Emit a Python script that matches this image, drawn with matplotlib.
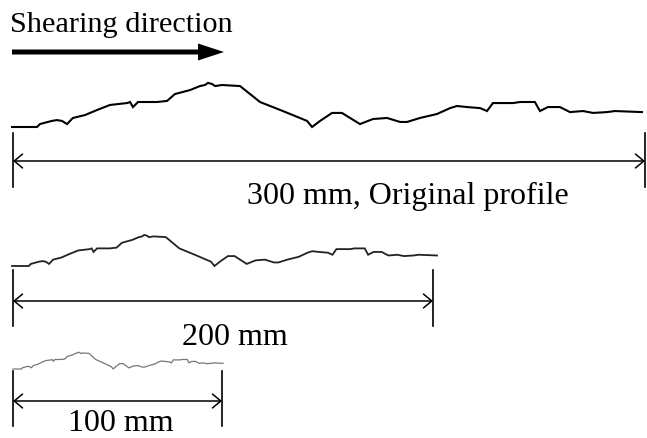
import numpy as np
import matplotlib
matplotlib.use("Agg")
import matplotlib.pyplot as plt

# joint roughness profile, distance along joint (mm) and asperity height (mm)
dist = [0, 11.9, 13.3, 19.0, 21.4, 23.8, 26.2, 29.0, 34.8, 40.5, 46.7, 54.8, 56.2,
        57.6, 60.0, 69.0, 73.8, 77.6, 84.8, 89.5, 91.9, 93.3, 95.2, 96.7, 100.0,
        108.6, 118.1, 129.0, 140.5, 142.9, 146.7, 152.4, 157.1, 165.7, 171.9, 178.6,
        184.8, 188.1, 194.3, 202.4, 208.6, 211.9, 216.7, 222.9, 226.2, 229.0, 238.6,
        241.9, 249.0, 251.4, 255.2, 260.9, 265.7, 271.9, 276.7, 283.3, 287.1, 300.0]
height = [0, 0, 1.4, 2.9, 3.3, 2.9, 1.4, 4.3, 5.7, 8.1, 10.5, 11.4, 11.9,
          9.5, 11.9, 11.9, 12.4, 15.7, 17.6, 19.5, 20.0, 21.0, 20.5, 19.5, 20.0,
          19.5, 11.9, 7.6, 2.9, 0, 2.9, 6.7, 6.7, 1.4, 3.8, 4.3,
          2.4, 2.4, 4.3, 6.2, 9.0, 10.0, 9.5, 9.0, 7.6, 11.4, 11.4,
          11.9, 11.9, 7.6, 9.5, 9.5, 7.1, 7.6, 6.7, 7.1, 7.6, 7.1]

lengths = [300, 200, 100]
labels = ["300 mm, Original profile", "200 mm", "100 mm"]

dist = np.array(dist)
height = np.array(height)

W, H = 647, 439
fig = plt.figure(figsize=(W / 100, H / 100), dpi=100)
ax = fig.add_axes([0, 0, 1, 1])
ax.set_xlim(0, W)
ax.set_ylim(H, 0)
ax.axis("off")

serif = "Liberation Serif"

# placement of each profile in pixel units (x0, x1, baseline y, vertical px/mm)
place = [
    dict(x0=12, x1=642, y0=128, sy=2.1, lw=1.5, c="black",
         tick=(13, 645, 134, 188), dim_y=162, lab_x=408, lab_y=204),
    dict(x0=12, x1=437, y0=267, sy=1.48, lw=1.3, c="#222222",
         tick=(13, 433, 271, 327), dim_y=302, lab_x=235, lab_y=345),
    dict(x0=13, x1=223, y0=370, sy=0.8, lw=0.9, c="#777777",
         tick=(13, 222, 372, 427), dim_y=402, lab_x=121, lab_y=431),
]

for L, lab, p in zip(lengths, labels, place):
    sx = (p["x1"] - p["x0"]) / dist.max()
    ax.plot(p["x0"] + dist * sx, p["y0"] - height * p["sy"],
            color=p["c"], lw=p["lw"], solid_joinstyle="miter")
    xa, xb, ya, yb = p["tick"]
    ax.plot([xa, xa], [ya, yb], color="black", lw=1.2)
    ax.plot([xb, xb], [ya, yb], color="black", lw=1.2)
    ax.annotate("", xy=(xa, p["dim_y"]), xytext=(xb, p["dim_y"]),
                arrowprops=dict(arrowstyle="<->,head_length=0.6,head_width=0.5",
                                lw=1.1, color="black", shrinkA=0, shrinkB=0,
                                mutation_scale=10))
    ax.text(p["lab_x"], p["lab_y"], lab, fontsize=23, family=serif,
            ha="center", va="baseline")

# shearing direction
ax.text(10, 32, "Shearing direction", fontsize=21.8, family=serif,
        ha="left", va="baseline")
ax.arrow(12, 53, 212, 0, width=5, head_width=17, head_length=26,
         length_includes_head=True, color="black", lw=0)

fig.savefig("out.png", dpi=100)
